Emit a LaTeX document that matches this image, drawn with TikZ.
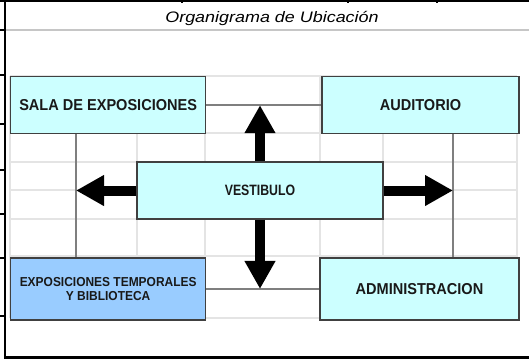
\documentclass[tikz,border=0pt]{standalone}
\usepackage{fontspec}
\setmainfont{Liberation Sans}
\newfontfamily\titlefont[FakeStretch=1.18]{Liberation Sans}
\newfontfamily\boxfont[FakeStretch=0.92]{Liberation Sans}
\newfontfamily\narrowfont[FakeStretch=0.82]{Liberation Sans}
\usepackage{xcolor}
\usepackage{tikz}
\usetikzlibrary{positioning, arrows.meta}

\definecolor{celeste}{HTML}{CCFFFF}
\definecolor{azul}{HTML}{99CCFF}
\definecolor{rejilla}{HTML}{E4E4E4}
\definecolor{borde}{HTML}{404040}
\definecolor{linea}{HTML}{7F7F7F}

\begin{document}
\begin{tikzpicture}[
    x=1pt, y=-1pt,
    box/.style={rectangle, draw=borde, line width=1.3pt, fill=celeste, align=center, inner sep=0pt, text=black!90, font=\boxfont\bfseries\fontsize{15.8}{17}\selectfont},
    link/.style={draw=linea, line width=1.4pt},
    gridline/.style={draw=rejilla, line width=1.6pt},
    bigarrow/.style={line width=10pt, -{Triangle[length=28pt, width=29pt]}}
]
    \useasboundingbox (0,0) rectangle (529,360);

    % hoja de calculo
    \foreach \y in {76,133,162,190,219,256,318}
        \draw [gridline] (10,\y) -- (517,\y);
    \foreach \x in {10,137,205,320,383,517}
        \draw [gridline] (\x,76) -- (\x,318);
    \draw [draw=gray!45, line width=1.2pt] (6,30) -- (529,30);
    \draw [line width=2pt] (0,1) -- (529,1);
    \foreach \x in {182,348,437}
        \draw [line width=1.5pt] (\x,0) -- (\x,3);
    \draw [line width=2pt] (5,0) -- (5,358);
    \foreach \y in {30,75,124,170,214,258,316}
        \draw [line width=1.5pt] (0,\y) -- (5,\y);
    \draw [line width=2.5pt] (4,357.5) -- (529,357.5);

    \node [font=\titlefont\itshape\fontsize{15.2}{18}\selectfont] (titulo) at (272,18) {Organigrama de Ubicación};

    \node [box, minimum width=195pt, minimum height=57pt, anchor=north west] (sala) at (10,76) {SALA DE EXPOSICIONES};
    \node [box, minimum width=197pt, minimum height=57pt, right=115pt of sala] (auditorio) {AUDITORIO};
    \node [box, fill=azul, minimum width=195pt, minimum height=62pt, font=\boxfont\bfseries\fontsize{13}{13.5}\selectfont, below=123pt of sala] (expo) {EXPOSICIONES TEMPORALES\\Y BIBLIOTECA};
    \node [box, minimum width=199pt, minimum height=62pt, right=113pt of expo] (admin) {ADMINISTRACION};
    \node [box, minimum width=246pt, minimum height=57pt, font=\narrowfont\bfseries\fontsize{15}{16}\selectfont] (vest) at (260,190.5) {VESTIBULO};

    \coordinate (lft) at (76,190);
    \coordinate (rgt) at (453,190);

    \draw [link] (sala.east) -- (auditorio.west);
    \draw [link] (expo.east) -- (admin.west);
    \draw [link] (sala.south -| lft) -- (expo.north -| lft);
    \draw [link] (auditorio.south -| rgt) -- (admin.north -| rgt);

    \draw [bigarrow] (vest.north) -- (vest.north |- sala.east);
    \draw [bigarrow] (vest.south) -- (vest.south |- expo.east);
    \draw [bigarrow] (vest.west) -- (vest.west -| lft);
    \draw [bigarrow] (vest.east) -- (vest.east -| rgt);
\end{tikzpicture}
\end{document}
